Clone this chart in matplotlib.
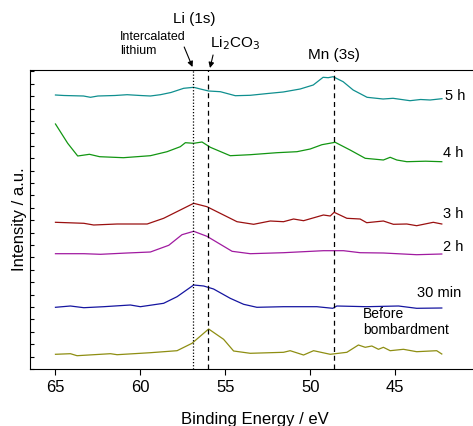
import matplotlib
matplotlib.use('Agg')
import matplotlib.pyplot as plt
import numpy as np

plt.rcParams['font.family'] = ['Liberation Sans', 'DejaVu Sans']

# stacked XPS spectra (binding energy in eV, intensity in a.u. incl. offset)
e_5h = [65, 64.5, 63.35, 62.94, 62.5, 61.5, 60.78, 60, 59.41, 58.82, 58.2, 57.45, 56.86,
        56.47, 55.98, 55.29, 54.41, 53.53, 52.5, 51.59, 50.59, 49.82, 49.24, 48.94, 48.65,
        48.06, 47.47, 46.65, 45.71, 45.12, 44.12, 43.5, 42.94, 42.24]
i_5h = [274, 273.5, 273, 271.7, 273, 273.5, 274.3, 273.5, 273, 274.3, 276.5, 280.7, 281.7,
        280, 278, 277.3, 273.3, 273.7, 275.5, 277, 280, 284, 291.7, 291.3, 292.3,
        287.3, 279, 271.7, 270, 270.7, 268.3, 269.5, 269, 270.3]

e_4h = [65, 64.28, 63.69, 63, 62.4, 61.0, 59.41, 58.43, 57.65, 57.35, 56.86, 56.37, 55.88,
        54.71, 53.53, 51.96, 50.78, 50.0, 49.31, 48.53, 47.65, 46.76, 45.69, 45.29, 44.9,
        44.31, 43.2, 42.25]
i_4h = [245, 225.7, 213, 214.7, 212.3, 211.3, 213.3, 217.3, 222.3, 226.3, 225.7, 227, 221.7,
        213.3, 214.3, 216.3, 217.3, 220, 224.3, 226.7, 219, 210.7, 209, 211.7, 209,
        207.3, 207.8, 207.3]

e_3h = [65, 63.33, 62.75, 61.37, 59.6, 58.63, 57.65, 56.86, 56.08, 55.1, 54.31, 53.33, 52.35,
        51.57, 50.98, 50.39, 49.22, 48.82, 48.59, 47.84, 47.06, 46.67, 45.69, 45.1, 44.31,
        43.73, 42.75, 42.25]
i_3h = [146.7, 145.7, 144, 145, 145, 150.7, 159, 165.7, 162.3, 154, 147.3, 144.7, 148,
        147.3, 150, 148.3, 154, 153, 156.7, 150.7, 150, 146.3, 148, 144.7, 145,
        143.3, 146.7, 145]

e_2h = [65, 63.33, 62.35, 60.78, 59.41, 58.33, 57.55, 56.86, 56.08, 54.6, 53.53, 51.57,
        49.22, 48.04, 47.06, 45.69, 43.73, 42.25]
i_2h = [115.3, 115.3, 114.7, 116, 117, 123.7, 134.3, 137.7, 132.7, 117.7, 115.3, 116.3,
        118.3, 118.3, 116.3, 116, 114.3, 115]

e_30m = [65, 64.12, 63.33, 62.16, 60.59, 60, 58.63, 57.84, 56.86, 56.27, 55.69, 54.71,
         53.92, 53.14, 51.57, 49.61, 48.67, 48.43, 46.67, 44.8, 43.73, 42.25]
i_30m = [61.7, 63, 61.3, 62.3, 64, 62.3, 65.7, 72.3, 84, 83, 80, 70.7,
         64.7, 61.7, 62.3, 62.3, 60.7, 63, 62.3, 63, 60.7, 61]

e_bef = [65, 64.12, 63.73, 61.76, 61.37, 59.41, 57.84, 56.96, 55.98, 55.1, 54.51, 53.53,
         51.57, 51.18, 50.39, 49.8, 48.82, 47.84, 47.16, 46.76, 46.37, 45.98, 45.69, 45.29,
         44.51, 43.73, 42.55, 42.25]
i_bef = [14.7, 15.3, 13.3, 15.3, 14.3, 16.3, 18.3, 25.7, 40, 29.7, 18, 15.7,
         16.7, 18.3, 14, 18.3, 14.7, 16.7, 24, 21.7, 23, 19.7, 21.7, 18.3,
         19.7, 17.3, 18.3, 15]

series = [
    (e_5h, i_5h, '#0f8f8f'),
    (e_4h, i_4h, '#129612'),
    (e_3h, i_3h, '#9a1010'),
    (e_2h, i_2h, '#a01aa0'),
    (e_30m, i_30m, '#1515a0'),
    (e_bef, i_bef, '#8e8e12'),
]

fig = plt.figure(figsize=(4.73, 4.26), dpi=100)
ax = fig.add_axes([30/473, 57/426, 450/473, 299/426])

for e, inten, c in series:
    ax.plot(e, inten, color=c, lw=0.9)

ax.axvline(56.9, color='black', ls=(0, (1, 1.5)), lw=0.9)
ax.axvline(56.0, color='black', ls=(0, (4, 3)), lw=0.9)
ax.axvline(48.6, color='black', ls=(0, (4, 3)), lw=0.9)

ax.set_xlim(66.5, 40)
ax.set_ylim(0, 299)
ax.set_xticks([65, 60, 55, 50, 45])
ax.set_yticks(np.arange(0, 300, 12.4))
ax.set_yticklabels([])
ax.tick_params(axis='x', direction='out', length=4, labelsize=12, pad=4)
ax.tick_params(axis='y', direction='in', length=3)
ax.spines['right'].set_visible(False)
ax.set_xlabel('Binding Energy / eV', fontsize=12, labelpad=12)
ax.set_ylabel('Intensity / a.u.', fontsize=12, labelpad=-1)

# curve labels
lab_kw = dict(fontsize=10.5, va='center', ha='left')
ax.text(42.05, 273, '5 h', **lab_kw)
ax.text(42.15, 216, '4 h', **lab_kw)
ax.text(42.15, 155, '3 h', **lab_kw)
ax.text(42.15, 122, '2 h', **lab_kw)
ax.text(43.7, 76, '30 min', **lab_kw)
ax.text(46.9, 47, 'Before\nbombardment', fontsize=10, va='center', ha='left', linespacing=1.1)

# peak annotations above the axes
ax.text(56.8, 350, 'Li (1s)', ha='center', va='center', fontsize=11, clip_on=False)
ax.text(61.18, 325, 'Intercalated\nlithium', ha='left', va='center', fontsize=9,
        linespacing=1.3, clip_on=False)
ax.annotate('', xy=(56.93, 302), xytext=(57.42, 322), annotation_clip=False,
            arrowprops=dict(arrowstyle='-|>', color='black', lw=0.8,
                            mutation_scale=8, shrinkA=0, shrinkB=0))
ax.text(55.9, 326, 'Li$_2$CO$_3$', ha='left', va='center', fontsize=11, clip_on=False)
ax.annotate('', xy=(55.9, 301), xytext=(55.72, 314), annotation_clip=False,
            arrowprops=dict(arrowstyle='-|>', color='black', lw=0.8,
                            mutation_scale=8, shrinkA=0, shrinkB=0))
ax.text(48.6, 314, 'Mn (3s)', ha='center', va='center', fontsize=11, clip_on=False)

plt.savefig('out.png', dpi=100)
